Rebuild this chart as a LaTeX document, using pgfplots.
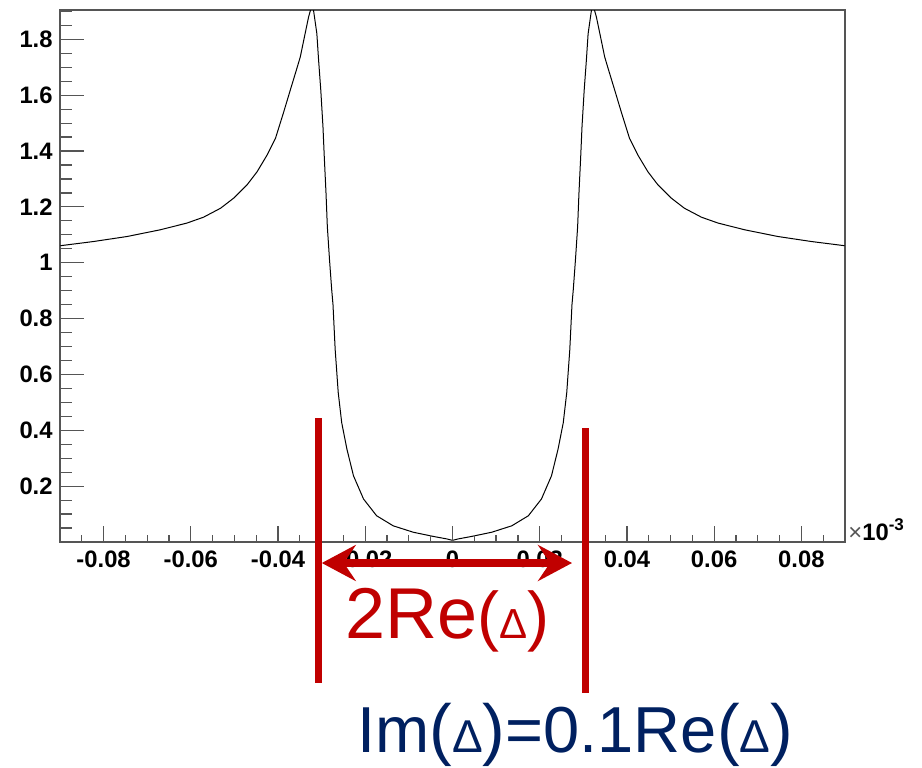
\documentclass[border=0pt]{standalone}
\usepackage{fontspec}
\setmainfont{Liberation Sans}
\usepackage{pgfplots}
\usepackage{pgfplotstable}
\pgfplotsset{compat=1.18}
\usetikzlibrary{arrows.meta}
\definecolor{annred}{HTML}{C00000}
\definecolor{annblue}{HTML}{002060}
\definecolor{framegray}{HTML}{555555}

\pgfplotstableread{
x y
-0.0899 1.061
-0.0823 1.076
-0.0746 1.094
-0.0670 1.118
-0.0609 1.142
-0.0571 1.163
-0.0532 1.195
-0.0502 1.231
-0.0471 1.279
-0.0448 1.326
-0.0425 1.386
-0.0406 1.445
-0.0387 1.540
-0.0372 1.618
-0.0357 1.695
-0.0349 1.737
-0.0338 1.820
-0.0330 1.880
-0.0321 1.930
-0.0311 1.820
-0.0307 1.725
-0.0302 1.618
-0.0297 1.487
-0.0294 1.380
-0.0290 1.249
-0.0287 1.130
-0.0282 1.011
-0.0277 0.904
-0.0274 0.850
-0.0269 0.689
-0.0262 0.535
-0.0254 0.427
-0.0242 0.332
-0.0227 0.237
-0.0204 0.154
-0.0174 0.094
-0.0136 0.058
-0.0090 0.035
-0.0044 0.020
-0.0013 0.011
0.0000 0.006
0.0013 0.011
0.0044 0.020
0.0090 0.035
0.0136 0.058
0.0174 0.094
0.0204 0.154
0.0227 0.237
0.0242 0.332
0.0254 0.427
0.0262 0.535
0.0269 0.689
0.0274 0.850
0.0277 0.904
0.0282 1.011
0.0287 1.130
0.0290 1.249
0.0294 1.380
0.0297 1.487
0.0302 1.618
0.0307 1.725
0.0311 1.820
0.0321 1.930
0.0330 1.880
0.0338 1.820
0.0349 1.737
0.0357 1.695
0.0372 1.618
0.0387 1.540
0.0406 1.445
0.0425 1.386
0.0448 1.326
0.0471 1.279
0.0502 1.231
0.0532 1.195
0.0571 1.163
0.0609 1.142
0.0670 1.118
0.0746 1.094
0.0823 1.076
0.0899 1.061
}\dostable

\newcommand{\tickfont}{\fontsize{11.9}{14}\selectfont\bfseries}
\newcommand{\rparen}[1]{{\fontsize{33}{34}\selectfont #1}}
\newcommand{\rdelta}{{\fontsize{21}{22}\selectfont Δ}}
\newcommand{\bparen}[1]{{\fontsize{34}{35}\selectfont #1}}
\newcommand{\bdelta}{{\fontsize{23}{24}\selectfont Δ}}

\begin{document}
\begin{tikzpicture}
\begin{axis}[
  at={(0pt,0pt)}, anchor=south west,
  scale only axis, width=392.5pt, height=266pt,
  xmin=-0.09, xmax=0.09, ymin=0, ymax=1.905,
  tick pos=left, tick align=inside,
  xtick=\empty,
  ytick={0.2,0.4,0.6,0.8,1,1.2,1.4,1.6,1.8},
  yticklabels={0.2,0.4,0.6,0.8,1,1.2,1.4,1.6,1.8},
  minor ytick={0.05,0.1,0.15,0.25,0.3,0.35,0.45,0.5,0.55,0.65,0.7,0.75,0.85,0.9,0.95,1.05,1.1,1.15,1.25,1.3,1.35,1.45,1.5,1.55,1.65,1.7,1.75,1.85,1.9},
  major tick length=12pt, minor tick length=6pt,
  scaled y ticks=false,
  axis line style={framegray, line width=0.6pt},
  every tick/.style={framegray, line width=0.6pt},
  yticklabel style={font=\tickfont, inner sep=0pt, xshift=-3.5pt},
]
\addplot[black, line width=0.5pt] table {\dostable};
\end{axis}
\begin{axis}[
  at={(0pt,0pt)}, anchor=south west,
  scale only axis, width=392.5pt, height=266pt,
  xmin=-0.09, xmax=0.09, ymin=0, ymax=1.905,
  tick pos=left, tick align=inside,
  ytick=\empty,
  xtick={-0.08,-0.06,-0.04,-0.02,0,0.02,0.04,0.06,0.08},
  xticklabels={-0.08,-0.06,-0.04,-0.02,0,0.02,0.04,0.06,0.08},
  minor xtick={-0.085,-0.075,-0.07,-0.065,-0.055,-0.05,-0.045,-0.035,-0.03,-0.025,-0.015,-0.01,-0.005,0.005,0.01,0.015,0.025,0.03,0.035,0.045,0.05,0.055,0.065,0.07,0.075,0.085},
  major tick length=8pt, minor tick length=3.5pt,
  scaled x ticks=false,
  axis line style={draw=none},
  every tick/.style={framegray, line width=0.6pt},
  xticklabel style={font=\tickfont, inner sep=0pt, yshift=-4pt},
]
\end{axis}
% x multiplier
\node[anchor=base west, inner sep=0pt] at (394pt,1pt)
  {\fontsize{11.9}{14}\selectfont\color{framegray}×\color{black}\textbf{10}\raisebox{5pt}{\fontsize{8.5}{10}\selectfont\bfseries -3}};
% red annotations
\draw[annred, line width=3.5pt] (129.2pt,62pt) -- (129.2pt,-70.5pt);
\draw[annred, line width=3.5pt] (262.5pt,57pt) -- (262.5pt,-75.5pt);
\draw[annred, line width=4pt,
  {Stealth[length=17pt,width=18pt,inset=6pt]}-{Stealth[length=17pt,width=18pt,inset=6pt]}]
  (130.9pt,-10.5pt) -- (256pt,-10.5pt);
\node[anchor=base west, inner sep=0pt, text=annred] at (142.5pt,-48.2pt)
  {\fontsize{36}{40}\selectfont 2Re\rparen{(}\rdelta\rparen{)}};
\node[anchor=base west, inner sep=0pt, text=annblue] at (148.5pt,-105pt)
  {\fontsize{32.5}{36}\selectfont Im\bparen{(}\bdelta\bparen{)}=0.1Re\bparen{(}\bdelta\bparen{)}};
\pgfresetboundingbox
\path[use as bounding box] (-30pt,-112.5pt) rectangle (431pt,271pt);
\end{tikzpicture}
\end{document}
